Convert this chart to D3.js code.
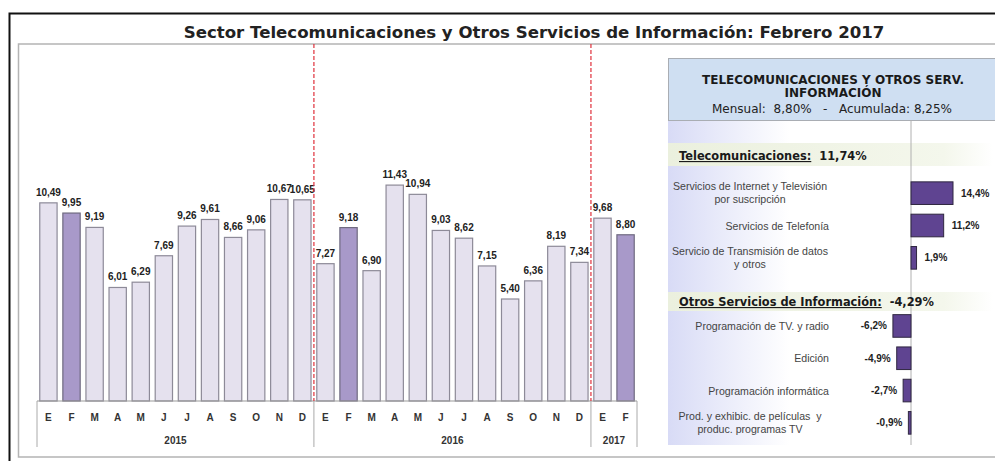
<!DOCTYPE html>
<html>
<head>
<meta charset="utf-8">
<script src="https://cdn.jsdelivr.net/npm/d3@7"></script>
<style>
  body { margin: 0; background: #fff; }
  svg { display: block; }
</style>
</head>
<body>
<div id="chart"></div>
<script>
// monthly series
const monthLabels = ['E', 'F', 'M', 'A', 'M', 'J', 'J', 'A', 'S', 'O', 'N', 'D',
  'E', 'F', 'M', 'A', 'M', 'J', 'J', 'A', 'S', 'O', 'N', 'D',
  'E', 'F'];
const yearLabels = ['2015', '2016', '2017'];
const monthsPerYear = [12, 12, 2];
const monthlyValues = [10.49, 9.95, 9.19, 6.01, 6.29, 7.69, 9.26, 9.61, 8.66, 9.06, 10.67, 10.65,
  7.27, 9.18, 6.90, 11.43, 10.94, 9.03, 8.62, 7.15, 5.40, 6.36, 8.19, 7.34,
  9.68, 8.80];
const highlightMonth = 'F';

// side panel
const panelTitle = ['TELECOMUNICACIONES Y OTROS SERV.', 'INFORMACIÓN'];
const mensual = 8.80;
const acumulada = 8.25;
const groupNames = ['Telecomunicaciones:', 'Otros Servicios de Información:'];
const groupTotals = [11.74, -4.29];
const telecomItems = [
  ['Servicios de Internet y Televisión', 'por suscripción'],
  ['Servicios de Telefonía'],
  ['Servicio de Transmisión de datos', 'y otros'],
];
const telecomValues = [14.4, 11.2, 1.9];
const otrosItems = [
  ['Programación de TV. y radio'],
  ['Edición'],
  ['Programación informática'],
  ['Prod. y exhibic. de películas  y', 'produc. programas TV'],
];
const otrosValues = [-6.2, -4.9, -2.7, -0.9];

const locale = d3.formatLocale({
  decimal: ',', thousands: '.', grouping: [3], currency: ['', ''], minus: '-',
});
const f2 = locale.format('.2f');
const f1 = locale.format('.1f');

const width = 995;
const height = 461;

const svg = d3.select('#chart')
  .append('svg')
  .attr('width', width)
  .attr('height', height)
  .attr('viewBox', [0, 0, width, height]);

const defs = svg.append('defs');

const lavender = defs.append('linearGradient')
  .attr('id', 'lavender')
  .attr('x1', 0).attr('x2', 1).attr('y1', 0).attr('y2', 0);
lavender.append('stop').attr('offset', '0%').attr('stop-color', '#d8dbf6');
lavender.append('stop').attr('offset', '50%').attr('stop-color', '#ffffff');

const greenish = defs.append('linearGradient')
  .attr('id', 'greenish')
  .attr('x1', 0).attr('x2', 1).attr('y1', 0).attr('y2', 0);
greenish.append('stop').attr('offset', '0%').attr('stop-color', '#ebf0de');
greenish.append('stop').attr('offset', '85%').attr('stop-color', '#f4f7ec');
greenish.append('stop').attr('offset', '100%').attr('stop-color', '#ffffff');

// frame
svg.append('path')
  .attr('fill', 'none')
  .attr('stroke', '#111')
  .attr('stroke-width', 2)
  .attr('d', `M${width + 5},13.5 H9.5 V${height + 5}`);

svg.append('path')
  .attr('fill', 'none')
  .attr('stroke', '#b4b4b4')
  .attr('stroke-width', 1.5)
  .attr('d', `M${width + 5},44 H18.5 V457 H${width + 5}`);

svg.append('text')
  .attr('x', 534)
  .attr('y', 37.5)
  .attr('text-anchor', 'middle')
  .style('font-family', 'DejaVu Sans, Verdana, sans-serif')
  .style('font-weight', 'bold')
  .style('font-size', '16.6px')
  .attr('fill', '#222')
  .text('Sector Telecomunicaciones y Otros Servicios de Información: Febrero 2017');

// ---- monthly bars ----
const ids = monthlyValues.map((_, i) => i);

const x = d3.scaleBand()
  .domain(ids)
  .range([37, 637])
  .paddingInner(0.25)
  .paddingOuter(0.12);

const y = d3.scaleLinear()
  .domain([0, 18.9])
  .range([401, 44]);

const gBars = svg.append('g').attr('class', 'g-bars');

gBars.selectAll('rect')
  .data(ids)
  .join('rect')
  .attr('x', (i) => x(i))
  .attr('y', (i) => y(monthlyValues[i]))
  .attr('width', x.bandwidth())
  .attr('height', (i) => y(0) - y(monthlyValues[i]))
  .attr('fill', (i) => (monthLabels[i] === highlightMonth ? '#a899c9' : '#e5e1ee'))
  .attr('stroke', (i) => (monthLabels[i] === highlightMonth ? '#6f6a80' : '#8d8a98'))
  .attr('stroke-width', 1.2);

gBars.selectAll('text')
  .data(ids)
  .join('text')
  .attr('x', (i) => x(i) + x.bandwidth() / 2)
  .attr('y', (i) => y(monthlyValues[i]) - 7)
  .attr('text-anchor', 'middle')
  .style('font-family', 'Liberation Sans, Arial, sans-serif')
  .style('font-weight', 'bold')
  .style('font-size', '10px')
  .attr('fill', '#222')
  .text((i) => f2(monthlyValues[i]));

// category axis: months and years
const gAxis = svg.append('g').attr('class', 'axis axis-x');

gAxis.append('line')
  .attr('x1', 37).attr('x2', 637)
  .attr('y1', y(0)).attr('y2', y(0))
  .attr('stroke', '#999');

gAxis.selectAll('.month')
  .data(ids)
  .join('text')
  .attr('class', 'month')
  .attr('x', (i) => x(i) + x.bandwidth() / 2)
  .attr('y', 421)
  .attr('text-anchor', 'middle')
  .style('font-family', 'Liberation Sans, Arial, sans-serif')
  .style('font-weight', 'bold')
  .style('font-size', '10px')
  .attr('fill', '#333')
  .text((i) => monthLabels[i]);

const yearStarts = d3.cumsum([0, ...monthsPerYear]);
const step = x.step();
const boundary = (k) => {
  if (k === 0) return 37;
  if (k === ids.length) return 637;
  return x(k) - (step - x.bandwidth()) / 2;
};

gAxis.selectAll('.year-line')
  .data(yearStarts)
  .join('line')
  .attr('class', 'year-line')
  .attr('x1', (k) => boundary(k))
  .attr('x2', (k) => boundary(k))
  .attr('y1', y(0))
  .attr('y2', 447)
  .attr('stroke', '#aaa');

gAxis.selectAll('.year')
  .data(yearLabels)
  .join('text')
  .attr('class', 'year')
  .attr('x', (d, j) => (boundary(yearStarts[j]) + boundary(yearStarts[j + 1])) / 2)
  .attr('y', 444)
  .attr('text-anchor', 'middle')
  .style('font-family', 'Liberation Sans, Arial, sans-serif')
  .style('font-weight', 'bold')
  .style('font-size', '10px')
  .attr('fill', '#333')
  .text((d) => d);

// year separators
svg.append('g')
  .selectAll('line')
  .data(yearStarts.slice(1, -1))
  .join('line')
  .attr('x1', (k) => boundary(k))
  .attr('x2', (k) => boundary(k))
  .attr('y1', 44)
  .attr('y2', y(0))
  .attr('stroke', '#e0313c')
  .attr('stroke-width', 1.2)
  .attr('stroke-dasharray', '4,2');

// ---- side panel ----
const gPanel = svg.append('g').attr('class', 'panel');

gPanel.append('rect')
  .attr('x', 668).attr('y', 120)
  .attr('width', 243).attr('height', 325)
  .attr('fill', 'url(#lavender)');

const bandRows = [[143, 23], [292, 19]];
gPanel.selectAll('.band')
  .data(bandRows)
  .join('rect')
  .attr('class', 'band')
  .attr('x', 668)
  .attr('y', (d) => d[0])
  .attr('width', 325)
  .attr('height', (d) => d[1])
  .attr('fill', 'url(#greenish)');

gPanel.append('rect')
  .attr('x', 668.5).attr('y', 58.5)
  .attr('width', 340).attr('height', 62)
  .attr('fill', '#cfdff2')
  .attr('stroke', '#a9adb3');

gPanel.selectAll('.head')
  .data(panelTitle)
  .join('text')
  .attr('class', 'head')
  .attr('x', 833)
  .attr('y', (d, i) => 84 + i * 12.5)
  .attr('text-anchor', 'middle')
  .style('font-family', 'DejaVu Sans, Verdana, sans-serif')
  .style('font-weight', 'bold')
  .style('font-size', '12px')
  .attr('fill', '#1a1a1a')
  .text((d) => d);

gPanel.append('text')
  .attr('x', 832)
  .attr('y', 112.5)
  .attr('text-anchor', 'middle')
  .style('font-family', 'DejaVu Sans, Verdana, sans-serif')
  .style('font-size', '12px')
  .attr('fill', '#222')
  .attr('xml:space', 'preserve')
  .text(`Mensual:  ${f2(mensual)}%   -   Acumulada: ${f2(acumulada)}%`);

const xs = d3.scaleLinear()
  .domain([0, 14.4])
  .range([911, 953]);

gPanel.append('line')
  .attr('x1', xs(0)).attr('x2', xs(0))
  .attr('y1', 120).attr('y2', 445)
  .attr('stroke', '#b0b0b0');

const groups = [
  {
    items: telecomItems, values: telecomValues, range: [177, 274], bandY: 160,
  },
  {
    items: otrosItems, values: otrosValues, range: [309.8, 439], bandY: 306,
  },
];

groups.forEach((g, gi) => {
  const yb = d3.scaleBand()
    .domain(d3.range(g.values.length))
    .range(g.range)
    .paddingInner(0.3)
    .paddingOuter(0.15);

  const header = gPanel.append('text')
    .attr('x', 679)
    .attr('y', g.bandY)
    .attr('xml:space', 'preserve')
    .style('font-family', 'DejaVu Sans, Verdana, sans-serif')
    .style('font-weight', 'bold')
    .style('font-size', '11.4px')
    .attr('fill', '#1a1a1a');
  header.append('tspan')
    .style('text-decoration', 'underline')
    .text(groupNames[gi]);
  header.append('tspan')
    .text(`  ${f2(groupTotals[gi])}%`);

  const row = gPanel.append('g')
    .selectAll('g')
    .data(g.values)
    .join('g');

  row.append('rect')
    .attr('x', (d) => Math.min(xs(0), xs(d)))
    .attr('y', (d, i) => yb(i))
    .attr('width', (d) => Math.abs(xs(d) - xs(0)))
    .attr('height', yb.bandwidth())
    .attr('fill', '#5f4491')
    .attr('stroke', '#2f2740')
    .attr('stroke-width', 1);

  row.append('text')
    .attr('x', (d) => (d >= 0 ? xs(d) + 8 : xs(d) - 6))
    .attr('y', (d, i) => yb(i) + yb.bandwidth() / 2 + 3.5)
    .attr('text-anchor', (d) => (d >= 0 ? 'start' : 'end'))
    .style('font-family', 'Liberation Sans, Arial, sans-serif')
    .style('font-weight', 'bold')
    .style('font-size', '10px')
    .attr('fill', '#222')
    .text((d) => `${f1(d)}%`);

  row.each(function (d, i) {
    const lines = g.items[i];
    const cy = yb(i) + yb.bandwidth() / 2;
    const two = lines.length > 1;
    d3.select(this).selectAll('.item')
      .data(lines)
      .join('text')
      .attr('class', 'item')
      .attr('x', two ? 750 : 829)
      .attr('y', (l, k) => (two ? cy - 3 + k * 13 : cy + 4))
      .attr('text-anchor', two ? 'middle' : 'end')
      .attr('xml:space', 'preserve')
      .style('font-family', 'Liberation Sans, Arial, sans-serif')
      .style('font-size', '10.6px')
      .attr('fill', '#444')
      .text((l) => l);
  });
});
</script>
</body>
</html>
